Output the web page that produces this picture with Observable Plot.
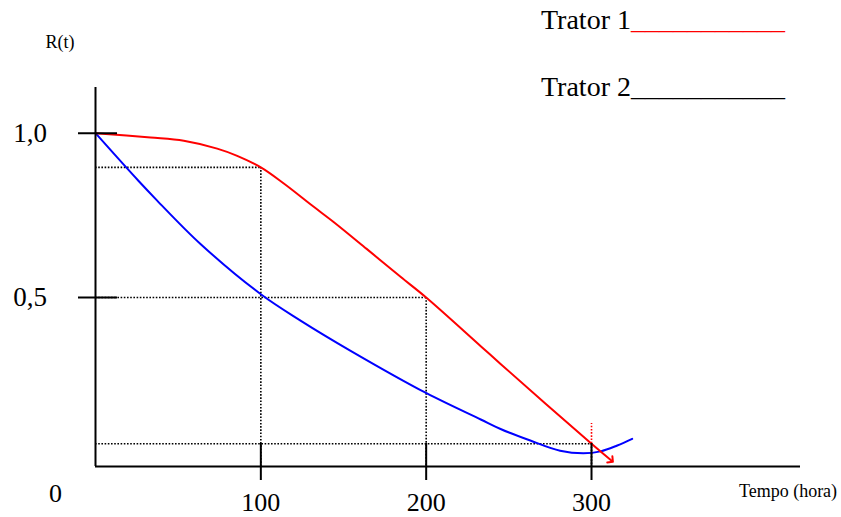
<!DOCTYPE html>
<html>
<head>
<meta charset="utf-8">
<script src="https://cdn.jsdelivr.net/npm/d3@7"></script>
<script src="https://cdn.jsdelivr.net/npm/@observablehq/plot@0.6"></script>
<style>
  html, body { margin: 0; padding: 0; background: #fff; }
  #wrap { position: relative; width: 841px; height: 517px; font-family: "Liberation Serif", "Times New Roman", serif; }
  #wrap svg { position: absolute; left: 0; top: 0; }
  .legend-item { position: absolute; white-space: nowrap; font-size: 28px; line-height: 28px; color: #000; }
</style>
</head>
<body>
<div id="wrap"></div>
<script>
// ---- data ----
const seriesNames = ["Trator 1", "Trator 2"];
const seriesColors = ["#ff0000", "#0000ff"];
const legendLineColors = ["#ff0000", "#000000"];

// Trator 1 (red)
const t1 = [0, 33.3, 53.4, 73.6, 85.7, 100, 113.9, 132, 144, 164, 184.5, 200, 233, 245, 300, 312];
const r1 = [1.0, 0.987, 0.977, 0.953, 0.931, 0.896, 0.847, 0.776, 0.73, 0.648, 0.563, 0.5, 0.352, 0.298, 0.055, 0.004];

// Trator 2 (blue)
const t2 = [0, 25.8, 37.3, 63.5, 100, 124, 154.3, 200.2, 233, 245, 263, 281, 295, 305.5, 315.6, 324.6];
const r2 = [1.0, 0.856, 0.795, 0.663, 0.51, 0.43, 0.338, 0.209, 0.129, 0.1, 0.065, 0.034, 0.026, 0.032, 0.05, 0.07];

// dotted guide lines
const guideT = [100, 200, 300];
const guideR = [0.896, 0.5, 0.055];
// short red dotted mark above t = 300
const markT = [300];
const markFrom = [0.055];
const markTo = [0.117];

const xTicks = [100, 200, 300];
const yTicks = [0.5, 1.0];
const xLabel = "Tempo (hora)";
const yLabel = "R(t)";
const originLabel = "0";

const xDomain = [0, 426.4];
const yDomain = [-0.014, 1.139];

// ---- tables ----
const s1 = t1.map((t, i) => ({t, R: r1[i]}));
const s2 = t2.map((t, i) => ({t, R: r2[i]}));
const guides = guideT.map((t, i) => ({t, R: guideR[i]}));
const marks300 = markT.map((t, i) => ({t, a: markFrom[i], b: markTo[i]}));

const dotted = {stroke: "#000", strokeWidth: 1.6, strokeDasharray: "1.6 1.6"};
const center = {textAnchor: "middle", lineAnchor: "middle"};

const chart = Plot.plot({
  width: 841,
  height: 517,
  marginLeft: 95,
  marginRight: 41,
  marginTop: 87,
  marginBottom: 51,
  x: {domain: xDomain},
  y: {domain: yDomain},
  style: {fontFamily: "'Liberation Serif', 'Times New Roman', serif", background: "transparent", overflow: "visible", color: "#000"},
  marks: [
    Plot.ruleY(guides, {y: "R", x2: "t", ...dotted}),
    Plot.ruleX(guides, {x: "t", y1: "R", y2: yDomain[0], ...dotted}),
    Plot.ruleX(marks300, {x: "t", y1: "a", y2: "b", stroke: "#ff0000", strokeWidth: 1.6, strokeDasharray: "1.6 1.6"}),
    Plot.line(s2, {x: "t", y: "R", stroke: seriesColors[1], strokeWidth: 2, curve: "catmull-rom"}),
    Plot.line(s1, {x: "t", y: "R", stroke: seriesColors[0], strokeWidth: 2, curve: "catmull-rom", markerEnd: "arrow"}),
    Plot.ruleX([xDomain[0]], {stroke: "#000", strokeWidth: 2}),
    Plot.ruleY([yDomain[0]], {stroke: "#000", strokeWidth: 2}),
    Plot.tickY(yTicks, {dx: -17, insetRight: 666, stroke: "#000", strokeWidth: 2}),
    Plot.tickX(xTicks, {dy: 14, insetTop: 342, stroke: "#000", strokeWidth: 2}),
    Plot.axisX(xTicks, {tickSize: 0, tickPadding: 26, fontSize: 26, label: null}),
    Plot.axisY(yTicks, {tickSize: 0, tickPadding: 48.5, fontSize: 27, label: null,
      tickFormat: d => d.toFixed(1).replace(".", ",")}),
    Plot.text([yLabel], {frameAnchor: "top-left", dx: -35.5, dy: -45, fontSize: 18, ...center}),
    Plot.text([xLabel], {frameAnchor: "bottom-right", dx: -12.5, dy: 25, fontSize: 18, ...center}),
    Plot.text([originLabel], {frameAnchor: "bottom-left", dx: -40, dy: 27, fontSize: 26, ...center})
  ]
});

const wrap = document.getElementById("wrap");
wrap.appendChild(chart);

// legend (names followed by an underline drawn with underscores)
const legendTops = [6, 73];
seriesNames.forEach((name, i) => {
  const div = document.createElement("div");
  div.className = "legend-item";
  div.style.left = "541px";
  div.style.top = legendTops[i] + "px";
  div.appendChild(document.createTextNode(name));
  const line = document.createElement("span");
  line.style.color = legendLineColors[i];
  line.textContent = "___________";
  div.appendChild(line);
  wrap.appendChild(div);
});
</script>
</body>
</html>
